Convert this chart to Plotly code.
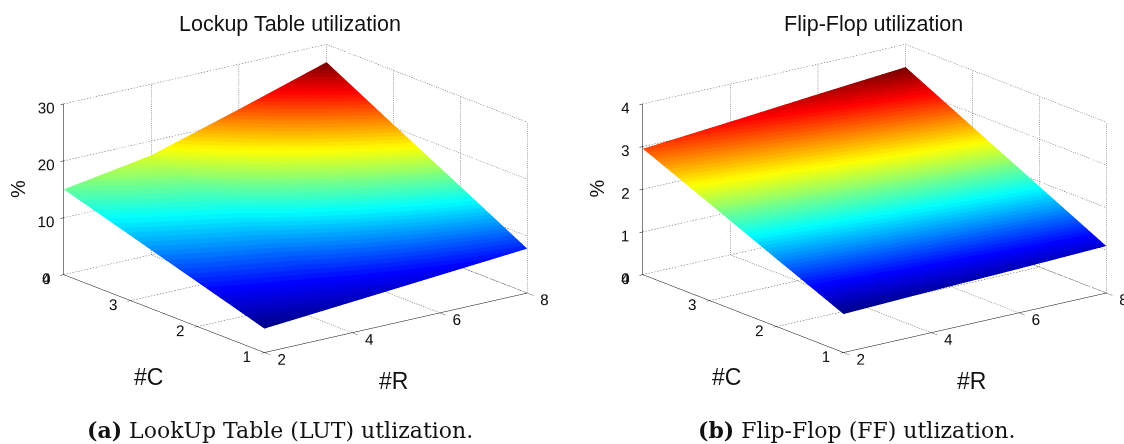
import plotly.graph_objects as go
import numpy as np

R_VALUES = [2, 4, 6, 8]
C_VALUES = [1, 2, 3, 4]
LUT_UTIL = [
    [4.2, 5.4, 6.6, 7.8],
    [7.8, 9.4, 11.8, 14.2],
    [11.4, 13.5, 17.0, 20.5],
    [15.0, 17.5, 22.1, 26.9],
]
FF_UTIL = [
    [0.90, 0.97, 1.03, 1.10],
    [1.58, 1.69, 1.79, 1.89],
    [2.27, 2.40, 2.54, 2.68],
    [2.95, 3.12, 3.30, 3.47],
]
LUT_Z_TICKS = [0, 10, 20, 30]
FF_Z_TICKS = [0, 1, 2, 3, 4]
R_TICKS = [2, 4, 6, 8]
C_TICKS = [1, 2, 3, 4]
TITLES = ["Lockup Table utilization", "Flip-Flop utilization"]
CAPTIONS = ["<b>(a)</b> LookUp Table (LUT) utlization.", "<b>(b)</b> Flip-Flop (FF) utlization."]

# MATLAB jet, 64 levels
_stops = [(0, (0, 0, 143)), (.125, (0, 0, 255)), (.375, (0, 255, 255)),
          (.625, (255, 255, 0)), (.875, (255, 0, 0)), (1, (128, 0, 0))]


def jet(t):
    for (a, ca), (b, cb) in zip(_stops, _stops[1:]):
        if t <= b:
            f = (t - a) / (b - a)
            return "rgb(%d,%d,%d)" % tuple(round(p + (q - p) * f) for p, q in zip(ca, cb))
    return "rgb(128,0,0)"


LEVELS = 64
JET = []
for i in range(LEVELS):
    col = jet(i / (LEVELS - 1))
    JET += [[i / LEVELS, col], [(i + 1) / LEVELS, col]]

W, H = 1124, 444
FONT = "Liberation Sans"
DOT_COUNT = 90
fig = go.Figure()


def grid_traces(scene, ztop):
    zt = LUT_Z_TICKS if ztop == 30 else FF_Z_TICKS
    xs, ys, zs = [], [], []

    def seg(a, b):
        # fine dotted line: WebGL dash patterns are too coarse
        a, b = np.array(a, float), np.array(b, float)
        for i in range(DOT_COUNT):
            p = a + (b - a) * i / DOT_COUNT
            q = a + (b - a) * (i + 0.45) / DOT_COUNT
            xs.extend([p[0], q[0], None]); ys.extend([p[1], q[1], None]); zs.extend([p[2], q[2], None])

    for z in zt:
        seg((2, 4, z), (8, 4, z))
        seg((8, 4, z), (8, 1, z))
    for r in R_TICKS:
        seg((r, 1, 0), (r, 4, 0))
        seg((r, 4, 0), (r, 4, ztop))
    for c in C_TICKS:
        seg((2, c, 0), (8, c, 0))
        seg((8, c, 0), (8, c, ztop))
    fig.add_trace(go.Scatter3d(x=xs, y=ys, z=zs, mode="lines", scene=scene, showlegend=False,
                               hoverinfo="skip", line=dict(color="#444444", width=1)))


def add_surface(z, scene, ztop):
    grid_traces(scene, ztop)
    fig.add_trace(go.Surface(x=R_VALUES, y=C_VALUES, z=z, scene=scene, colorscale=JET,
                             showscale=False,
                             lighting=dict(ambient=1, diffuse=0, specular=0, roughness=1, fresnel=0)))


add_surface(LUT_UTIL, "scene", 30)
add_surface(FF_UTIL, "scene2", 4)


def axis(ticks, rng, ticklen):
    return dict(title=dict(text=""),
                tickvals=ticks, ticktext=[str(t) for t in ticks], range=rng,
                tickangle=0,
                tickfont=dict(family=FONT, size=13.5, color="#111"),
                showgrid=False, zeroline=False, showbackground=False, showspikes=False,
                showline=True, linecolor="#000", linewidth=1,
                ticks="outside", ticklen=ticklen, tickcolor="#000", mirror=False)


def scene(x0, x1, ztop, zt, center):
    return dict(
        domain=dict(x=[x0 / W, x1 / W], y=[1 - 396 / H, 1 - 1 / H]),
        xaxis=axis(R_TICKS, [2, 8], 4),
        yaxis=axis(C_TICKS, [1, 4], 10),
        zaxis=axis(zt, [0, ztop], 5),
        aspectmode="manual", aspectratio=dict(x=1.675, y=1.675, z=0.905),
        camera=dict(projection=dict(type="orthographic"),
                    up=dict(x=0, y=0, z=1), center=center,
                    eye=dict(x=-1.78 + center["x"], y=-2.33 + center["y"], z=0.91 + center["z"])),
        bgcolor="white",
    )


fig.update_layout(
    width=W, height=H, margin=dict(l=0, r=0, t=0, b=0),
    paper_bgcolor="white", plot_bgcolor="white", showlegend=False,
    scene=scene(0, 591, 30, LUT_Z_TICKS, dict(x=0, y=0, z=0)),
    scene2=scene(591, 1124, 4, FF_Z_TICKS, dict(x=-0.069, y=0.052, z=0)),
)


def note(xc, yc, text, size, family=FONT, angle=0):
    fig.add_annotation(x=xc / W, y=1 - yc / H, xref="paper", yref="paper", text=text,
                       xanchor="center", yanchor="middle", showarrow=False, textangle=angle,
                       font=dict(family=family, size=size, color="#111"))


for xc, text in zip((290, 873), TITLES):
    note(xc, 24, text, 21.5)
for xc, text in zip((279.5, 856), CAPTIONS):
    note(xc, 430, text, 22, "DejaVu Serif")
for off in (0, 578.5):
    note(18 + off, 189, "%", 20, angle=-90)
    note(148 + off, 377, "#C", 23)
    note(393 + off, 381, "#R", 23)

fig.write_html("out.html", post_script="document.body.style.margin='0';",
               config=dict(displayModeBar=False))
